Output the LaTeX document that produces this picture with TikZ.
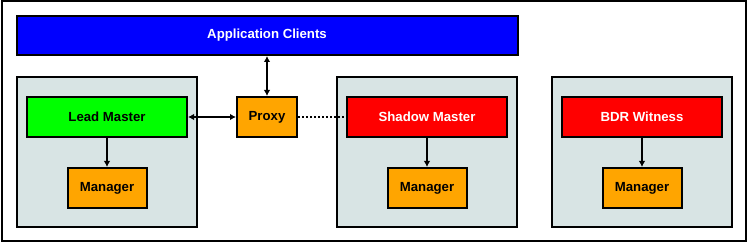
\documentclass[tikz,border=0pt]{standalone}
\usepackage{fontspec}
\setmainfont{Liberation Sans}
\usepackage{xcolor}
\usetikzlibrary{arrows.meta,positioning}

\definecolor{clientblue}{RGB}{0,0,255}
\definecolor{leadgreen}{RGB}{0,255,0}
\definecolor{shadowred}{RGB}{255,0,0}
\definecolor{mgrorange}{RGB}{255,165,0}
\definecolor{hostgray}{RGB}{216,228,228}

\begin{document}
\begin{tikzpicture}[
    x=1pt, y=-1pt,
    box/.style={draw, line width=2pt, minimum height=40pt, align=center,
                font=\fontsize{13.2}{15}\selectfont\bfseries, inner sep=0pt},
    host/.style={draw, line width=2pt, fill=hostgray, minimum width=180pt,
                 minimum height=150pt, inner sep=0pt},
    client/.style={box, fill=clientblue, text=white, minimum width=501pt, minimum height=39pt},
    lead/.style={box, fill=leadgreen, minimum width=160pt},
    shadow/.style={box, fill=shadowred, text=white, minimum width=160pt},
    mgr/.style={box, fill=mgrorange, minimum width=79pt},
    line/.style={line width=2pt, -{Latex[length=6pt,width=6.5pt]}},
    dline/.style={line width=2pt, {Latex[length=6pt,width=6.5pt]}-{Latex[length=6pt,width=6.5pt]}}
]
\useasboundingbox (0,0) rectangle (748,243);
\draw[line width=2pt] (1.5,1.5) rectangle (746,241);

% hosts
\node[host] (hostA) at (107,152) {};
\node[host] (hostB) at (427,152) {};
\node[host] (hostC) at (642,152) {};

\node[client] (clients) at (267,35.5) {Application Clients};
\node[lead]   (lead)    at (107,117)  {Lead Master};
\node[mgr, minimum width=60pt] (proxy) at (267,117) {Proxy};
\node[shadow] (shadowm) at (427,117)  {Shadow Master};
\node[shadow] (witness) at (642,117)  {BDR Witness};

\node[mgr, below=29pt of lead]    (mgrA) {Manager};
\node[mgr, below=29pt of shadowm] (mgrB) {Manager};
\node[mgr, below=29pt of witness] (mgrC) {Manager};

\draw[dline] (clients.south -| proxy) -- (proxy.north);
\draw[dline] (lead.east) -- (proxy.west);
\draw[line width=2pt, dotted] (proxy.east) -- (shadowm.west);
\draw[line] (lead)    -- (mgrA);
\draw[line] (shadowm) -- (mgrB);
\draw[line] (witness) -- (mgrC);
\end{tikzpicture}
\end{document}
